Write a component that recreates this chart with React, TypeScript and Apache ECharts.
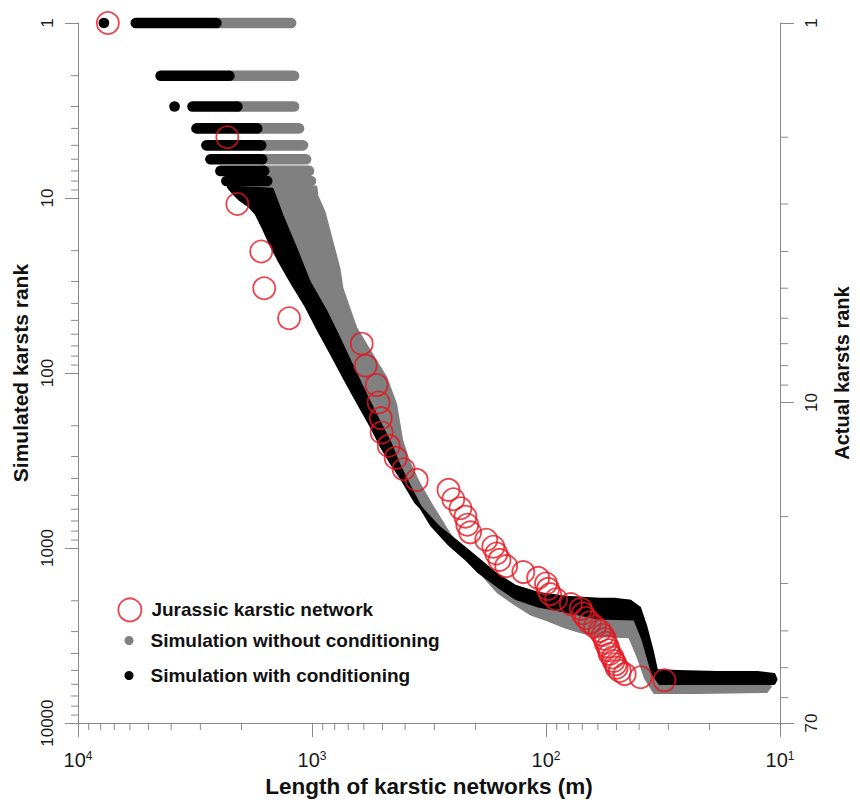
import React, { useEffect, useRef } from "react";
import * as echarts from "echarts";

const FONT = "'Liberation Sans', Arial, Helvetica, sans-serif";
const RED = "#e3161f";
const GRAY = "#808080";
const BLACK = "#000000";
const AXIS = "#8a8a8a";
const LABEL = "#1a1a1a";

// Actual (Jurassic) karsts: length (m) by actual rank
const jurassicRank = [
  1, 2, 3, 4, 5, 6, 7, 8, 9, 10, 11, 12, 13, 14, 15, 16, 17, 18, 19, 20, 21, 22, 23, 24, 25, 26, 27,
  28, 29, 30, 31, 32, 33, 34, 35, 36, 37, 38, 39, 40, 41, 42, 43, 44, 45, 46, 47, 48, 49, 50, 51, 52,
  53, 54,
];
const jurassicLength = [
  7455, 2301, 2085, 1648, 1600, 1253, 613, 589, 529, 519, 508, 504, 470, 439, 406, 357, 261, 249,
  232, 221, 217, 211, 180, 168, 163, 158, 148, 125, 108, 100, 98, 96, 90.6, 78.3, 71, 69.6, 67.6, 65,
  61.8, 58.9, 57.2, 56.1, 55.6, 54.5, 53.9, 53.4, 51.9, 51.4, 50.4, 49.9, 48.4, 46.1, 39.4, 31.2,
];

// Discrete rows of the simulations at the top ranks (length span per simulated rank)
const grayRowRank = [1, 2, 3, 4, 5, 6, 7, 8];
const grayRowFrom = [2562, 2255, 2085, 1714, 1648, 1633, 1600, 1554];
const grayRowTo = [1228, 1193, 1193, 1136, 1093, 1060, 1030, 1010];

const blackRowRank = [1, 1, 2, 3, 3, 4, 5, 6, 7, 8];
const blackRowFrom = [7749, 5665, 4434, 3866, 3241, 3117, 2827, 2716, 2463, 2323];
const blackRowTo = [7749, 2562, 2255, 3866, 2085, 1714, 1648, 1633, 1600, 1554];

// Outline of the continuous cloud, simulation with conditioning (length, simulated rank)
const blackBandLength = [
  2277, 2148, 2045, 1854, 1731, 1633, 1494, 1381, 1217, 1060, 934, 822, 717, 631, 555, 508, 461, 418,
  361, 288, 221, 165, 135, 108, 83, 60, 51, 43.5, 39.8, 37.5, 35.0, 33.7, 27.4, 18.5, 12.5, 10.6,
  10.4, 10.6, 15.2, 22.5, 32.7, 35.0, 36.1, 38.6, 41.8, 60, 83, 108, 135, 160, 195, 221, 261, 309,
  350, 387, 426, 461, 519, 589, 676, 767, 872, 1030, 1170, 1342, 1479,
];
const blackBandRank = [
  8.66, 9.49, 10.13, 11.1, 12.3, 14.4, 18.7, 22.8, 30.7, 41.5, 57.5, 78.7, 110.6, 151, 205, 259, 323,
  393, 545, 757, 1009, 1397, 1656, 1815, 1911, 1963, 1963, 2015, 2202, 2784, 3961, 5010, 5070, 5140,
  5140, 5280, 5635, 5930, 5930, 5930, 5930, 5208, 4513, 3300, 2543, 2509, 2291, 2145, 1937, 1656,
  1361, 1148, 945, 738, 560, 431, 332, 255, 187, 133, 90, 63, 44.3, 30, 19.5, 12.65, 8.9,
];

// Outline of the continuous cloud, simulation without conditioning
const grayBandLength = [
  962, 2277, 2148, 2045, 1854, 1731, 1633, 1494, 1381, 1217, 1060, 934, 822, 717, 631, 555, 508, 461,
  418, 361, 288, 221, 165, 135, 108, 83, 60, 43.5, 41.8, 37.9, 35.7, 34.4, 22.5, 15.2, 11.4, 11.0,
  11.4, 22.5, 34.4, 37.5, 40.6, 43.9, 60, 71, 83, 98, 116, 135, 160, 189, 221, 261, 309, 350, 387,
  414, 439, 484, 555, 650, 696, 745, 767, 822, 889, 952,
];
const grayBandRank = [
  8.66, 8.66, 9.49, 10.13, 11.1, 12.3, 14.4, 18.7, 22.8, 30.7, 41.5, 57.5, 78.7, 110.6, 151, 205, 259,
  323, 393, 545, 757, 1009, 1397, 1656, 1815, 1911, 1963, 2015, 2609, 3477, 4694, 5635, 5711, 5711,
  5789, 6175, 6590, 6677, 6677, 5560, 4118, 3214, 3172, 3011, 2821, 2576, 2383, 2096, 1791, 1397,
  1089, 819, 567, 425, 319, 242, 151, 106, 78.7, 55.3, 42.6, 32.8, 25.3, 17.8, 12.0, 9.74,
];

// Minor tick values
const xMinorTicks = [
  20, 30, 40, 50, 60, 70, 80, 90, 200, 300, 400, 500, 600, 700, 800, 900, 2000, 3000, 4000, 5000,
  6000, 7000, 8000, 9000,
];
const leftMinorTicks = [
  2, 3, 4, 5, 6, 7, 8, 9, 20, 30, 40, 50, 60, 70, 80, 90, 200, 300, 400, 500, 600, 700, 800, 900,
  2000, 3000, 4000, 5000, 6000, 7000, 8000, 9000,
];
const rightMinorTicks = [2, 3, 4, 5, 6, 7, 8, 9, 20, 30, 40, 50, 60];

const X_MIN = 10;
const X_MAX = 10000;
const YL_MAX = 10000;

function bandSeries(name: string, color: string, lens: number[], ranks: number[], z: number) {
  return {
    type: "custom",
    name,
    coordinateSystem: "cartesian2d",
    xAxisIndex: 0,
    yAxisIndex: 0,
    clip: false,
    silent: true,
    z,
    itemStyle: { color },
    encode: { x: 0, y: 1 },
    data: lens.map((l, i) => [l, ranks[i]]),
    renderItem: (params: any, api: any) => {
      if (params.dataIndex !== 0) return null;
      const pts = lens.map((l, i) => api.coord([l, ranks[i]]));
      return {
        type: "polygon",
        shape: { points: pts },
        style: { fill: color, stroke: color, lineWidth: 3, lineJoin: "round" },
      };
    },
  };
}

function rowSeries(name: string, color: string, from: number[], to: number[], ranks: number[], z: number) {
  return {
    type: "custom",
    name,
    coordinateSystem: "cartesian2d",
    xAxisIndex: 0,
    yAxisIndex: 0,
    clip: false,
    silent: true,
    z,
    itemStyle: { color },
    encode: { x: [0, 1], y: 2 },
    data: from.map((f, i) => [f, to[i], ranks[i]]),
    renderItem: (params: any, api: any) => {
      const a = api.coord([api.value(0), api.value(2)]);
      const b = api.coord([api.value(1), api.value(2)]);
      if (Math.abs(a[0] - b[0]) < 0.5) {
        return { type: "circle", shape: { cx: a[0], cy: a[1], r: 5.3 }, style: { fill: color } };
      }
      return {
        type: "line",
        shape: { x1: a[0], y1: a[1], x2: b[0], y2: b[1] },
        style: { stroke: color, lineWidth: 10.6, lineCap: "round" },
      };
    },
  };
}

function tickSeries(values: number[], kind: "x" | "yl" | "yr", len: number) {
  return {
    type: "custom",
    name: "ticks-" + kind,
    coordinateSystem: "cartesian2d",
    xAxisIndex: 0,
    yAxisIndex: kind === "yr" ? 1 : 0,
    clip: false,
    silent: true,
    z: 10,
    encode: { x: 0, y: 1 },
    data: values.map((v) =>
      kind === "x" ? [v, YL_MAX] : kind === "yl" ? [X_MAX, v] : [X_MIN, v]
    ),
    renderItem: (params: any, api: any) => {
      const p = api.coord([api.value(0), api.value(1)]);
      let shape;
      if (kind === "x") shape = { x1: p[0], y1: p[1], x2: p[0], y2: p[1] + len };
      else if (kind === "yl") shape = { x1: p[0] - len, y1: p[1], x2: p[0], y2: p[1] };
      else shape = { x1: p[0], y1: p[1], x2: p[0] + len, y2: p[1] };
      return { type: "line", shape, style: { stroke: AXIS, lineWidth: 1 } };
    },
  };
}

const legendText = { fontFamily: FONT, fontSize: 19, fontWeight: "bold", color: "#111" };

export default function App() {
  const ref = useRef<HTMLDivElement>(null);
  useEffect(() => {
    if (!ref.current) return;
    const chart = echarts.init(ref.current, undefined, { renderer: "svg" });
    const yLabel = {
      rotate: 90,
      fontFamily: FONT,
      fontSize: 17,
      color: LABEL,
      formatter: (v: number) => String(Math.round(v)),
    };
    const option: any = {
      animation: false,
      backgroundColor: "#ffffff",
      grid: { left: 78, right: 76, top: 23, bottom: 74, containLabel: false },
      xAxis: {
        type: "log",
        logBase: 10,
        min: X_MIN,
        max: X_MAX,
        inverse: true,
        position: "bottom",
        axisLine: { show: true, lineStyle: { color: AXIS, width: 1 } },
        axisTick: { show: true, length: 14, lineStyle: { color: AXIS } },
        splitLine: { show: false },
        axisLabel: {
          margin: 27,
          formatter: (v: number) => `{b|10}{s|${Math.round(Math.log10(v))}}`,
          rich: {
            b: { fontFamily: FONT, fontSize: 20, color: LABEL, verticalAlign: "bottom" },
            s: { fontFamily: FONT, fontSize: 12, color: LABEL, verticalAlign: "top" },
          },
        },
        name: "Length of karstic networks (m)",
        nameLocation: "middle",
        nameGap: 44,
        nameTextStyle: { fontFamily: FONT, fontSize: 22.5, fontWeight: "bold", color: "#111" },
      },
      yAxis: [
        {
          type: "log",
          logBase: 10,
          min: 1,
          max: YL_MAX,
          inverse: true,
          position: "left",
          axisLine: { show: true, lineStyle: { color: AXIS, width: 1 } },
          axisTick: { show: true, length: 13, lineStyle: { color: AXIS } },
          splitLine: { show: false },
          axisLabel: { ...yLabel, margin: 22 },
          name: "Simulated karsts rank",
          nameLocation: "middle",
          nameRotate: 90,
          nameGap: 45,
          nameTextStyle: { fontFamily: FONT, fontSize: 21, fontWeight: "bold", color: "#111" },
        },
        {
          type: "log",
          logBase: 10,
          min: 1,
          max: 70,
          inverse: true,
          position: "right",
          axisLine: { show: true, lineStyle: { color: AXIS, width: 1 } },
          axisTick: { show: true, length: 14, lineStyle: { color: AXIS } },
          splitLine: { show: false },
          axisLabel: { ...yLabel, margin: 23 },
          name: "Actual karsts rank",
          nameLocation: "middle",
          nameRotate: 90,
          nameGap: 52,
          nameTextStyle: { fontFamily: FONT, fontSize: 20, fontWeight: "bold", color: "#111" },
        },
      ],
      legend: [
        {
          left: 117.5,
          top: 597.5,
          padding: 0,
          itemWidth: 23,
          itemHeight: 23,
          selectedMode: false,
          data: [
            {
              name: "Jurassic karstic network",
              icon: "circle",
              itemStyle: { color: "transparent", borderColor: RED, borderWidth: 1.8 },
            },
          ],
          textStyle: { ...legendText, padding: [0, 0, 0, 5] },
        },
        {
          left: 124.5,
          top: 631,
          padding: 0,
          itemWidth: 9,
          itemHeight: 9,
          selectedMode: false,
          data: [{ name: "Simulation without conditioning", icon: "circle", itemStyle: { color: GRAY } }],
          textStyle: { ...legendText, padding: [0, 0, 0, 12] },
        },
        {
          left: 124.5,
          top: 666,
          padding: 0,
          itemWidth: 9,
          itemHeight: 9,
          selectedMode: false,
          data: [{ name: "Simulation with conditioning", icon: "circle", itemStyle: { color: BLACK } }],
          textStyle: { ...legendText, padding: [0, 0, 0, 12] },
        },
      ],
      series: [
        rowSeries("Simulation without conditioning", GRAY, grayRowFrom, grayRowTo, grayRowRank, 1),
        bandSeries("Simulation without conditioning", GRAY, grayBandLength, grayBandRank, 1),
        rowSeries("Simulation with conditioning", BLACK, blackRowFrom, blackRowTo, blackRowRank, 2),
        bandSeries("Simulation with conditioning", BLACK, blackBandLength, blackBandRank, 2),
        {
          type: "scatter",
          name: "Jurassic karstic network",
          xAxisIndex: 0,
          yAxisIndex: 1,
          clip: false,
          z: 5,
          symbol: "circle",
          symbolSize: 22,
          itemStyle: { color: "transparent", borderColor: RED, borderWidth: 1.8 },
          data: jurassicLength.map((l, i) => [l, jurassicRank[i]]),
        },
        tickSeries(xMinorTicks, "x", 7),
        tickSeries(leftMinorTicks, "yl", 7),
        tickSeries(rightMinorTicks, "yr", 8),
      ],
    };
    chart.setOption(option);
    return () => chart.dispose();
  }, []);
  return (
    <div
      ref={ref}
      style={{ position: "absolute", left: 0, top: 0, width: 860, height: 803, background: "#fff" }}
    />
  );
}
